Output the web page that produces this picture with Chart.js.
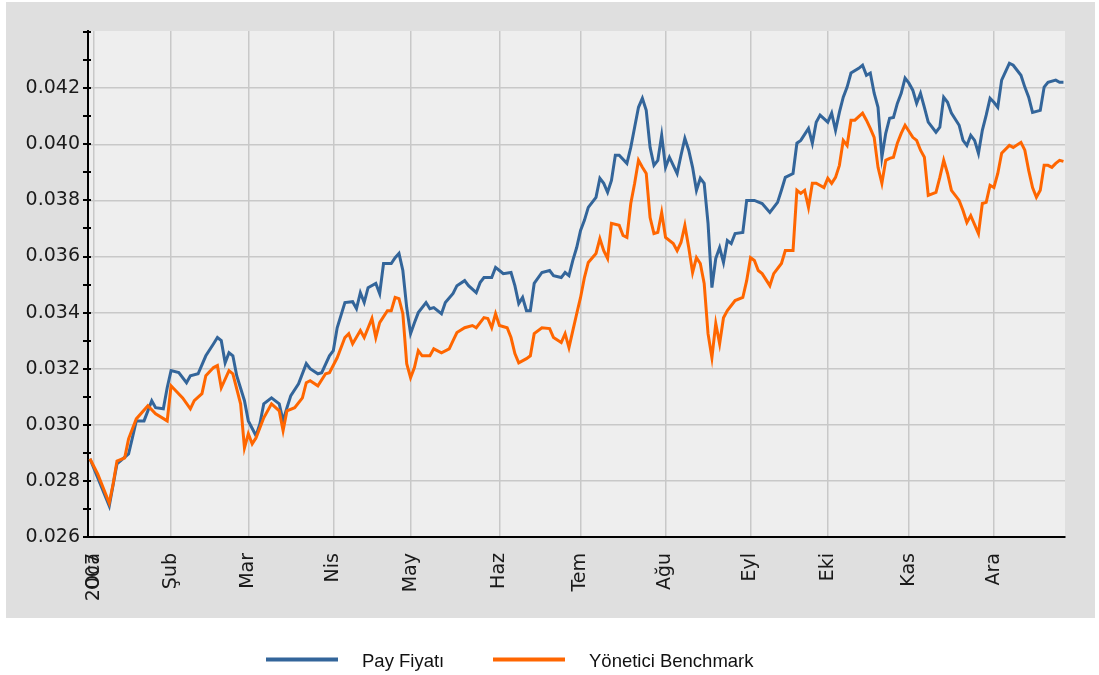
<!DOCTYPE html>
<html>
<head>
<meta charset="utf-8">
<script src="https://cdn.jsdelivr.net/npm/chart.js@4.4.1/dist/chart.umd.min.js"></script>
<style>
html,body{margin:0;padding:0;background:#ffffff;}
#wrap{width:1099px;height:675px;position:relative;}
</style>
</head>
<body>
<div id="wrap"><canvas id="c" width="1099" height="675"></canvas></div>
<script>
// ---- data (x = trading-day index of 2007, y = value) ----
const monthTickDays = [1, 21, 41, 63, 83, 106, 127, 149, 171, 191, 212, 234];
const monthTickLabels = ['2007', 'Şub', 'Mar', 'Nis', 'May', 'Haz', 'Tem', 'Ağu', 'Eyl', 'Eki', 'Kas', 'Ara'];
const firstTickOverlay = 'Oca';
const yTickValues = [0.026, 0.028, 0.030, 0.032, 0.034, 0.036, 0.038, 0.040, 0.042];
const yMinorStep = 0.001;
const seriesNames = ['Pay Fiyatı', 'Yönetici Benchmark'];

const payDays = [0,5,7,10,11,12,14,16,17,19,20,21,23,25,26,28,30,32,33,34,35,36,37,38,40,41,43,44,45,47,49,50,51,52,54,56,57,59,60,62,63,64,66,68,69,70,71,72,74,75,76,78,79,80,81,82,83,84,85,87,88,89,91,92,94,95,97,98,100,101,102,104,105,106,107,109,110,111,112,113,114,115,117,119,120,122,123,124,125,126,127,128,129,131,132,133,134,135,136,137,139,140,141,142,143,144,145,146,147,148,149,150,151,152,153,154,155,156,157,158,159,160,161,162,163,164,165,166,167,169,170,171,172,174,176,178,179,180,182,183,184,186,187,188,189,191,192,193,194,195,196,197,199,200,201,202,203,204,205,206,207,208,209,210,211,212,213,214,215,216,217,219,220,221,222,223,225,226,227,228,229,230,231,232,233,234,235,236,238,239,241,242,243,244,246,247,248,250,251,252];
const payValues = [0.02879,0.02711,0.02861,0.02896,0.02954,0.03014,0.03014,0.03086,0.03061,0.03057,0.03132,0.03193,0.03186,0.03150,0.03175,0.03182,0.03246,0.03289,0.03311,0.03300,0.03221,0.03257,0.03246,0.03175,0.03086,0.03014,0.02961,0.03004,0.03075,0.03096,0.03075,0.03014,0.03061,0.03104,0.03146,0.03218,0.03200,0.03182,0.03186,0.03246,0.03264,0.03346,0.03436,0.03439,0.03414,0.03471,0.03436,0.03489,0.03504,0.03468,0.03575,0.03575,0.03596,0.03611,0.03550,0.03418,0.03325,0.03364,0.03400,0.03436,0.03414,0.03418,0.03396,0.03436,0.03468,0.03496,0.03514,0.03496,0.03471,0.03507,0.03525,0.03525,0.03561,0.03550,0.03539,0.03543,0.03496,0.03432,0.03454,0.03407,0.03407,0.03504,0.03543,0.03550,0.03532,0.03525,0.03543,0.03532,0.03586,0.03632,0.03693,0.03729,0.03775,0.03811,0.03879,0.03861,0.03829,0.03871,0.03961,0.03961,0.03932,0.03989,0.04061,0.04132,0.04164,0.04121,0.03989,0.03925,0.03943,0.04032,0.03918,0.03954,0.03925,0.03896,0.03961,0.04021,0.03979,0.03918,0.03836,0.03879,0.03861,0.03718,0.03489,0.03593,0.03632,0.03579,0.03657,0.03646,0.03682,0.03686,0.03800,0.03800,0.03800,0.03789,0.03757,0.03793,0.03836,0.03882,0.03896,0.04004,0.04014,0.04057,0.04004,0.04079,0.04104,0.04079,0.04111,0.04050,0.04114,0.04168,0.04204,0.04254,0.04271,0.04282,0.04246,0.04254,0.04182,0.04132,0.03954,0.04039,0.04093,0.04096,0.04146,0.04182,0.04236,0.04218,0.04193,0.04146,0.04182,0.04132,0.04079,0.04043,0.04061,0.04168,0.04150,0.04111,0.04068,0.04014,0.03996,0.04032,0.04014,0.03968,0.04050,0.04104,0.04164,0.04150,0.04132,0.04229,0.04289,0.04282,0.04246,0.04204,0.04168,0.04114,0.04121,0.04204,0.04221,0.04229,0.04221,0.04221];

const benchDays = [0,2,5,6,7,9,10,12,15,17,20,21,24,26,27,29,30,32,33,34,36,37,39,40,41,42,43,45,47,49,50,51,53,55,56,57,59,61,62,64,66,67,68,70,71,73,74,75,77,78,79,80,81,82,83,84,85,86,88,89,91,93,94,95,97,99,100,102,103,104,105,106,108,109,110,111,113,114,115,117,119,120,122,123,124,125,126,127,128,129,131,132,133,134,135,137,138,139,140,141,142,143,144,145,146,147,148,149,151,152,153,154,155,156,157,158,159,160,161,162,163,164,165,167,169,170,171,172,173,174,176,177,179,180,182,183,184,185,186,187,188,190,191,192,193,194,195,196,197,198,200,201,202,203,204,205,206,207,208,209,210,211,213,214,215,216,217,219,220,221,222,223,225,226,227,228,230,231,232,233,234,235,236,238,239,241,242,243,244,245,246,247,248,249,250,251,252];
const benchValues = [0.02879,0.02825,0.02721,0.02789,0.02871,0.02882,0.02950,0.03021,0.03068,0.03039,0.03014,0.03139,0.03096,0.03057,0.03086,0.03111,0.03175,0.03204,0.03211,0.03132,0.03193,0.03182,0.03075,0.02918,0.02968,0.02932,0.02954,0.03025,0.03075,0.03050,0.02979,0.03050,0.03061,0.03096,0.03150,0.03157,0.03139,0.03182,0.03186,0.03239,0.03311,0.03325,0.03289,0.03336,0.03311,0.03379,0.03311,0.03364,0.03407,0.03407,0.03454,0.03450,0.03396,0.03218,0.03168,0.03204,0.03264,0.03246,0.03246,0.03271,0.03257,0.03271,0.03300,0.03329,0.03346,0.03354,0.03346,0.03382,0.03379,0.03346,0.03396,0.03354,0.03346,0.03311,0.03254,0.03221,0.03236,0.03246,0.03325,0.03346,0.03343,0.03311,0.03293,0.03325,0.03275,0.03336,0.03396,0.03454,0.03525,0.03579,0.03611,0.03664,0.03621,0.03593,0.03718,0.03711,0.03675,0.03668,0.03789,0.03861,0.03943,0.03918,0.03896,0.03739,0.03682,0.03686,0.03757,0.03668,0.03646,0.03621,0.03650,0.03711,0.03632,0.03543,0.03596,0.03575,0.03504,0.03325,0.03239,0.03361,0.03289,0.03382,0.03407,0.03443,0.03454,0.03514,0.03596,0.03586,0.03550,0.03539,0.03496,0.03539,0.03575,0.03621,0.03621,0.03836,0.03825,0.03836,0.03775,0.03861,0.03861,0.03846,0.03879,0.03861,0.03882,0.03925,0.04014,0.03996,0.04086,0.04086,0.04111,0.04086,0.04057,0.04025,0.03918,0.03861,0.03943,0.03950,0.03954,0.04004,0.04039,0.04068,0.04025,0.04014,0.03979,0.03954,0.03818,0.03829,0.03882,0.03943,0.03896,0.03836,0.03800,0.03764,0.03721,0.03746,0.03682,0.03789,0.03793,0.03854,0.03846,0.03896,0.03968,0.03996,0.03989,0.04007,0.03979,0.03907,0.03846,0.03811,0.03836,0.03925,0.03925,0.03918,0.03932,0.03943,0.03939];

// ---- chart ----
const xMin = -0.5, xMax = 252.4;
const yMin = 0.026, yMax = 0.04404;

function toPoints(days, values) {
  return days.map((d, i) => ({ x: d, y: values[i] }));
}

const backgroundPlugin = {
  id: 'panelBackground',
  beforeDraw(chart) {
    const ctx = chart.ctx;
    const a = chart.chartArea;
    ctx.save();
    ctx.fillStyle = '#ffffff';
    ctx.fillRect(0, 0, chart.width, chart.height);
    ctx.fillStyle = '#dfdfdf';
    ctx.fillRect(6, 2, 1089, 616);
    ctx.fillStyle = '#eeeeee';
    ctx.fillRect(a.left, a.top, a.right - a.left, a.bottom - a.top);
    ctx.restore();
  },
  afterDraw(chart) {
    const ctx = chart.ctx;
    const a = chart.chartArea;
    const ys = chart.scales.y;
    const xs = chart.scales.x;
    ctx.save();
    // minor tick marks on the value axis
    ctx.strokeStyle = '#000000';
    ctx.lineWidth = 2;
    const n = Math.floor((ys.max - ys.min) / yMinorStep + 1e-6);
    const ax = a.left - 1;
    ctx.beginPath();
    for (let i = 0; i <= n; i++) {
      const py = Math.round(ys.getPixelForValue(ys.min + i * yMinorStep));
      ctx.moveTo(ax - 4, py); ctx.lineTo(ax + 4, py);
    }
    const pTop = Math.round(ys.getPixelForValue(ys.max)) + 1;
    ctx.moveTo(ax - 4, pTop); ctx.lineTo(ax + 4, pTop);
    ctx.stroke();
    // overlapping month name on the first (year) tick
    const items = xs.getLabelItems();
    if (items && items.length) {
      const it = items[0];
      ctx.font = it.font.string;
      ctx.fillStyle = it.options.color;
      ctx.translate(it.options.translation[0], it.options.translation[1]);
      ctx.rotate(it.options.rotation);
      ctx.textAlign = it.options.textAlign;
      ctx.textBaseline = it.options.textBaseline;
      ctx.fillText(firstTickOverlay, 0, it.textOffset);
      ctx.setTransform(1, 0, 0, 1, 0, 0);
    }
    // legend
    const legendItems = [
      { x: 266, ds: chart.data.datasets[0] },
      { x: 493, ds: chart.data.datasets[1] }
    ];
    ctx.font = '18.5px "Liberation Sans", Arial, sans-serif';
    ctx.textAlign = 'left';
    ctx.textBaseline = 'alphabetic';
    legendItems.forEach(li => {
      ctx.strokeStyle = li.ds.borderColor;
      ctx.lineWidth = 4;
      ctx.beginPath();
      ctx.moveTo(li.x, 659.5); ctx.lineTo(li.x + 72, 659.5);
      ctx.stroke();
      ctx.fillStyle = '#111111';
      ctx.fillText(li.ds.label, li.x + 96, 667);
    });
    ctx.restore();
  }
};

new Chart(document.getElementById('c'), {
  type: 'line',
  data: {
    datasets: [
      {
        label: seriesNames[0],
        data: toPoints(payDays, payValues),
        borderColor: '#33659a',
        backgroundColor: '#33659a',
        borderWidth: 3,
        pointRadius: 0,
        tension: 0,
        fill: false,
        order: 2
      },
      {
        label: seriesNames[1],
        data: toPoints(benchDays, benchValues),
        borderColor: '#ff6600',
        backgroundColor: '#ff6600',
        borderWidth: 3,
        pointRadius: 0,
        tension: 0,
        fill: false,
        order: 1
      }
    ]
  },
  options: {
    responsive: false,
    animation: false,
    devicePixelRatio: 1,
    layout: { padding: { left: 0, right: 34, top: 31, bottom: 0 } },
    plugins: { legend: { display: false }, tooltip: { enabled: false } },
    scales: {
      x: {
        type: 'linear',
        min: xMin,
        max: xMax,
        afterBuildTicks(scale) { scale.ticks = monthTickDays.map(v => ({ value: v })); },
        afterFit(scale) { scale.height = 138; },
        ticks: {
          autoSkip: false,
          maxRotation: 90,
          minRotation: 90,
          padding: 16,
          color: '#1a1a1a',
          font: { family: '"DejaVu Sans", Verdana, sans-serif', size: 19 },
          callback(value, index) { return monthTickLabels[index]; }
        },
        grid: { color: '#c8c8c8', lineWidth: 1.5, drawTicks: false },
        border: { display: true, color: '#000000', width: 2 }
      },
      y: {
        type: 'linear',
        min: yMin,
        max: yMax,
        afterBuildTicks(scale) { scale.ticks = yTickValues.map(v => ({ value: v })); },
        afterFit(scale) { scale.width = 88; },
        ticks: {
          padding: 8,
          color: '#1a1a1a',
          font: { family: '"DejaVu Sans", Verdana, sans-serif', size: 19 },
          callback(value) { return Number(value).toFixed(3); }
        },
        grid: { color: '#c8c8c8', lineWidth: 1.5, drawTicks: false },
        border: { display: true, color: '#000000', width: 2 }
      }
    }
  },
  plugins: [backgroundPlugin]
});
</script>
</body>
</html>
